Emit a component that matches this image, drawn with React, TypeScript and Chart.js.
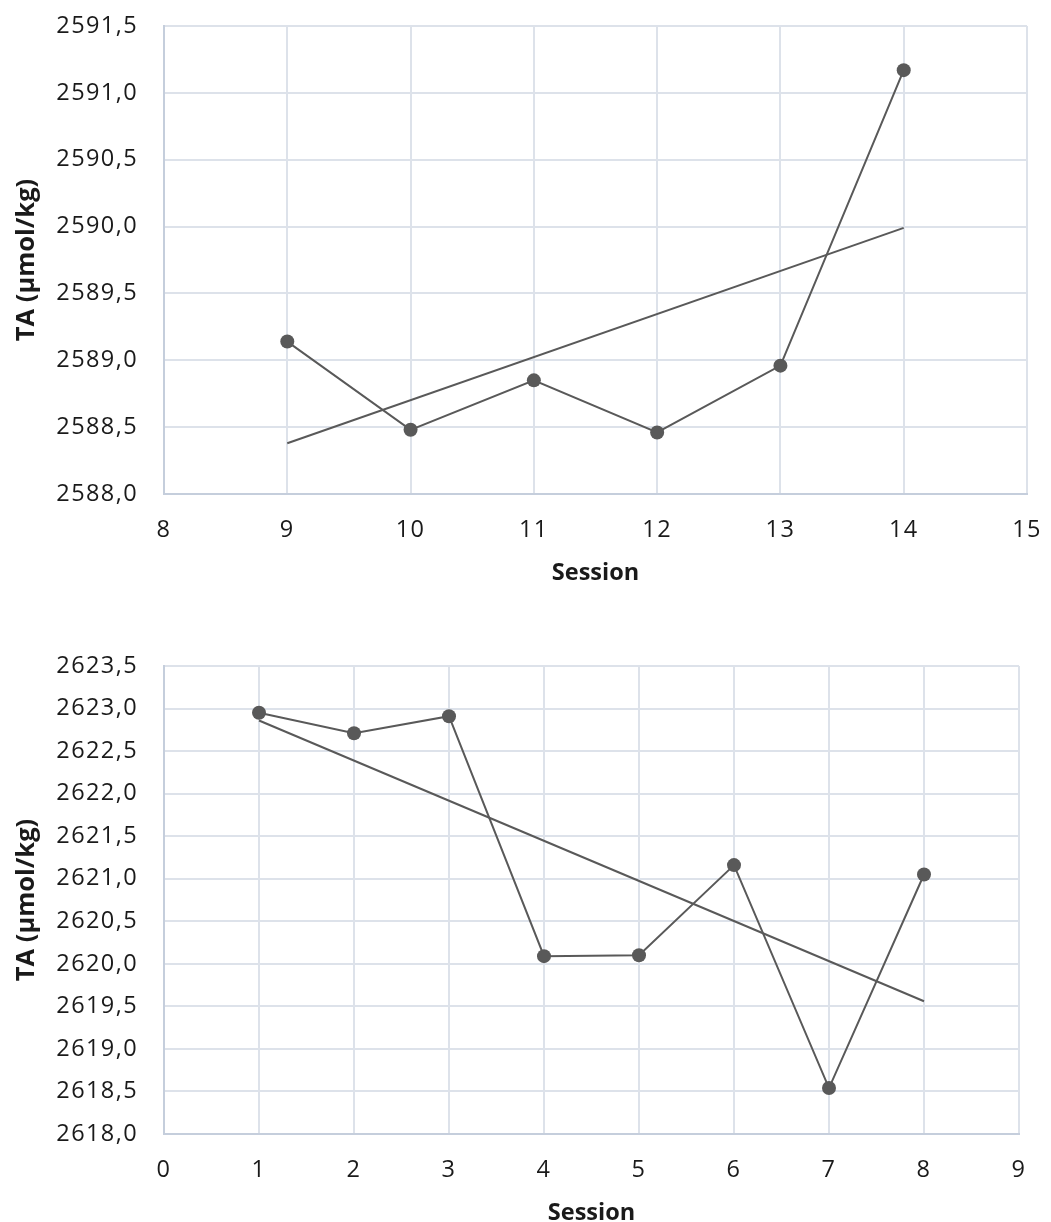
import React, { useEffect, useRef } from "react";
import { Chart, registerables } from "chart.js";

Chart.register(...registerables);

// ---- Data: top chart (sessions 9-14) ----
const sessionsTop = [9, 10, 11, 12, 13, 14];
const taTop = [2589.14, 2588.48, 2588.85, 2588.46, 2588.96, 2591.17];
const trendTopX = [9, 14];
const trendTopY = [2588.38, 2589.99];
const yTicksTop = [2588.0, 2588.5, 2589.0, 2589.5, 2590.0, 2590.5, 2591.0, 2591.5];
const xRangeTop = [8, 15];

// ---- Data: bottom chart (sessions 1-8) ----
const sessionsBottom = [1, 2, 3, 4, 5, 6, 7, 8];
const taBottom = [2622.95, 2622.71, 2622.91, 2620.09, 2620.1, 2621.16, 2618.54, 2621.05];
const trendBottomX = [1, 8];
const trendBottomY = [2622.86, 2619.56];
const yTicksBottom = [2618.0, 2618.5, 2619.0, 2619.5, 2620.0, 2620.5, 2621.0, 2621.5, 2622.0, 2622.5, 2623.0, 2623.5];
const xRangeBottom = [0, 9];

const xTitle = "Session";
const yTitle = "TA (µmol/kg)";

const LINE = "#595959";
const GRID = "#dde2ea";
const BORDER = "#c5cedc";
const TEXT = "#1a1a1a";
const FONT = "'Open Sans', 'Noto Sans', sans-serif";

const PLOT_TOP = 26;
const PLOT_H = 468;
const Y_AXIS_W = 164;

function wrapLabelSpacing(s: any) {
  if (s.__lsWrapped) return;
  s.__lsWrapped = true;
  const orig = s.drawLabels;
  s.drawLabels = function (area: any) {
    const ctx = this.ctx;
    ctx.save();
    (ctx as any).letterSpacing = "1.4px";
    orig.call(this, area);
    ctx.restore();
  };
}

type Props = {
  xs: number[];
  ys: number[];
  tx: number[];
  ty: number[];
  yTicks: number[];
  xRange: number[];
  width: number;
  height: number;
  rightPad: number;
};

function TAChart({ xs, ys, tx, ty, yTicks, xRange, width, height, rightPad }: Props) {
  const ref = useRef<HTMLCanvasElement | null>(null);
  useEffect(() => {
    if (!ref.current) return;
    const chart = new Chart(ref.current, {
      type: "scatter",
      data: {
        datasets: [
          {
            data: xs.map((x, i) => ({ x, y: ys[i] })),
            showLine: true,
            borderColor: LINE,
            backgroundColor: LINE,
            borderWidth: 2,
            pointRadius: 7,
            pointBackgroundColor: LINE,
            pointBorderColor: LINE,
            pointBorderWidth: 0,
          },
          {
            data: tx.map((x, i) => ({ x, y: ty[i] })),
            showLine: true,
            borderColor: LINE,
            borderWidth: 2,
            pointRadius: 0,
          },
        ],
      },
      options: {
        animation: false,
        responsive: false,
        maintainAspectRatio: false,
        layout: { padding: { top: PLOT_TOP, right: rightPad, bottom: 0, left: 0 } },
        plugins: { legend: { display: false }, tooltip: { enabled: false } },
        scales: {
          x: {
            type: "linear",
            min: xRange[0],
            max: xRange[1],
            afterBuildTicks: (s: any) => {
              const t = [];
              for (let v = xRange[0]; v <= xRange[1]; v++) t.push({ value: v });
              s.ticks = t;
            },
            ticks: {
              color: TEXT,
              font: { family: FONT, size: 23.5 },
              padding: 22,
              callback: (v: any) => String(v),
            },
            grid: { color: GRID, lineWidth: 2, drawTicks: false },
            border: { color: BORDER, width: 2 },
            title: {
              display: true,
              text: xTitle,
              color: TEXT,
              font: { family: FONT, size: 23.5, weight: "bold" },
              padding: { top: 0, bottom: 0 },
            },
            afterFit: (s: any) => {
              wrapLabelSpacing(s);
              s.height = height - PLOT_TOP - PLOT_H;
              s.paddingLeft = 0;
              s.paddingRight = 0;
            },
          },
          y: {
            type: "linear",
            min: yTicks[0],
            max: yTicks[yTicks.length - 1],
            afterBuildTicks: (s: any) => {
              s.ticks = yTicks.map((v) => ({ value: v }));
            },
            ticks: {
              color: TEXT,
              font: { family: FONT, size: 23.5 },
              padding: 26,
              callback: (v: any) => Number(v).toFixed(1).replace(".", ","),
            },
            grid: { color: GRID, lineWidth: 2, drawTicks: false },
            border: { color: BORDER, width: 2 },
            title: {
              display: true,
              text: yTitle,
              color: TEXT,
              font: { family: FONT, size: 25.5, weight: "bold" },
              padding: { top: 11, bottom: 0 },
            },
            afterFit: (s: any) => {
              wrapLabelSpacing(s);
              s.width = Y_AXIS_W;
              s.paddingTop = 0;
              s.paddingBottom = 0;
            },
          },
        },
      },
    });
    return () => chart.destroy();
  }, []);
  return (
    <canvas
      ref={ref}
      width={width}
      height={height}
      style={{ display: "block", width: width + "px", height: height + "px" }}
    />
  );
}

export default function App() {
  return (
    <div style={{ position: "absolute", left: 0, top: 0, width: 1051, height: 1222, overflow: "hidden", background: "#fff" }}>
      <div style={{ position: "absolute", left: 0, top: 0 }}>
        <TAChart xs={sessionsTop} ys={taTop} tx={trendTopX} ty={trendTopY} yTicks={yTicksTop} xRange={xRangeTop} width={1051} height={587} rightPad={24} />
      </div>
      <div style={{ position: "absolute", left: 0, top: 640 }}>
        <TAChart xs={sessionsBottom} ys={taBottom} tx={trendBottomX} ty={trendBottomY} yTicks={yTicksBottom} xRange={xRangeBottom} width={1051} height={587} rightPad={32} />
      </div>
    </div>
  );
}
